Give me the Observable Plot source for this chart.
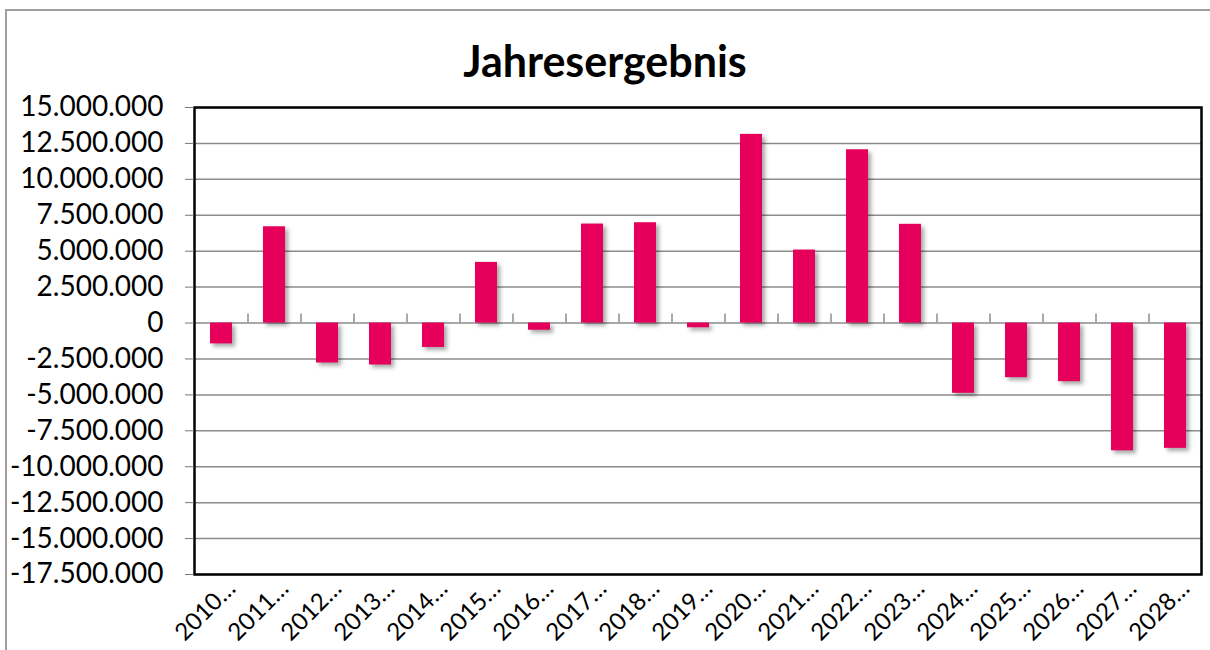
<!DOCTYPE html>
<html><head><meta charset="utf-8">
<script src="https://cdn.jsdelivr.net/npm/d3@7"></script>
<script src="https://cdn.jsdelivr.net/npm/@observablehq/plot@0.6"></script>
<style>
body{margin:0;background:#fff;}
#wrap{position:relative;width:1210px;height:650px;overflow:hidden;font-family:Lato,sans-serif;}
#border{position:absolute;left:5px;top:9px;right:-10px;bottom:-10px;border-left:2px solid #a0a0a0;border-top:2px solid #a0a0a0;}
#title{position:absolute;left:0;width:1210px;top:36px;line-height:50px;text-align:center;font-weight:bold;font-size:43px;font-family:Lato,sans-serif;color:#000;}
#chart{position:absolute;left:0;top:0;}
</style></head>
<body><div id="wrap"><div id="border"></div><div id="title">Jahresergebnis</div><div id="chart"></div></div>
<script>
const years = ["2010","2011","2012","2013","2014","2015","2016","2017","2018","2019","2020","2021","2022","2023","2024","2025","2026","2027","2028"];
const xLabels = ["2010…","2011…","2012…","2013…","2014…","2015…","2016…","2017…","2018…","2019…","2020…","2021…","2022…","2023…","2024…","2025…","2026…","2027…","2028…"];
const values = [-1450000, 6700000, -2780000, -2920000, -1700000, 4220000, -500000, 6890000, 6980000, -330000, 13130000, 5080000, 12060000, 6870000, -4890000, -3800000, -4080000, -8890000, -8720000];
const yTicks = [-17500000,-15000000,-12500000,-10000000,-7500000,-5000000,-2500000,0,2500000,5000000,7500000,10000000,12500000,15000000];

const CAT_TICK = 630000;
const data = years.map((y, i) => ({year: y, value: values[i]}));
const fmt = d3.formatLocale({decimal: ",", thousands: ".", grouping: [3], currency: ["", "€"], minus: "-"}).format(",.0f");
const labelOf = d => xLabels[years.indexOf(d)];

const chart = Plot.plot({
  width: 1210, height: 650,
  marginTop: 107, marginLeft: 194, marginRight: 9, marginBottom: 76,
  style: {fontFamily: "Lato, sans-serif", fontSize: "28px", color: "#000", background: "transparent", overflow: "visible"},
  x: {domain: years, paddingInner: 0.59, paddingOuter: 0.295, label: null},
  y: {domain: [-17500000, 15000000], label: null},
  marks: [
    Plot.gridY(yTicks, {stroke: "#8c8c8c", strokeOpacity: 1, strokeWidth: 1.5}),
    Plot.ruleX(years.slice(1), {x: d => d, y1: 0, y2: CAT_TICK, dx: -26.5, stroke: "#8c8c8c", strokeWidth: 1.5}),
    Plot.barY(data, {x: "year", y: "value", fill: "#e6005c"}),
    Plot.frame({stroke: "#000", strokeWidth: 2.5}),
    Plot.axisY(yTicks, {tickSize: 9, tickPadding: 22, tickFormat: fmt, stroke: "#777", fontSize: 28, label: null}),
    Plot.axisX({tickSize: 0, tickRotate: -45, tickPadding: 10, dx: 10, tickFormat: labelOf, fontSize: 24, label: null})
  ]
});
d3.select(chart).selectAll("g[aria-label='bar']").style("filter", "drop-shadow(3px 3px 2px rgba(0,0,0,0.35))");
document.getElementById("chart").appendChild(chart);
</script>
</body></html>
